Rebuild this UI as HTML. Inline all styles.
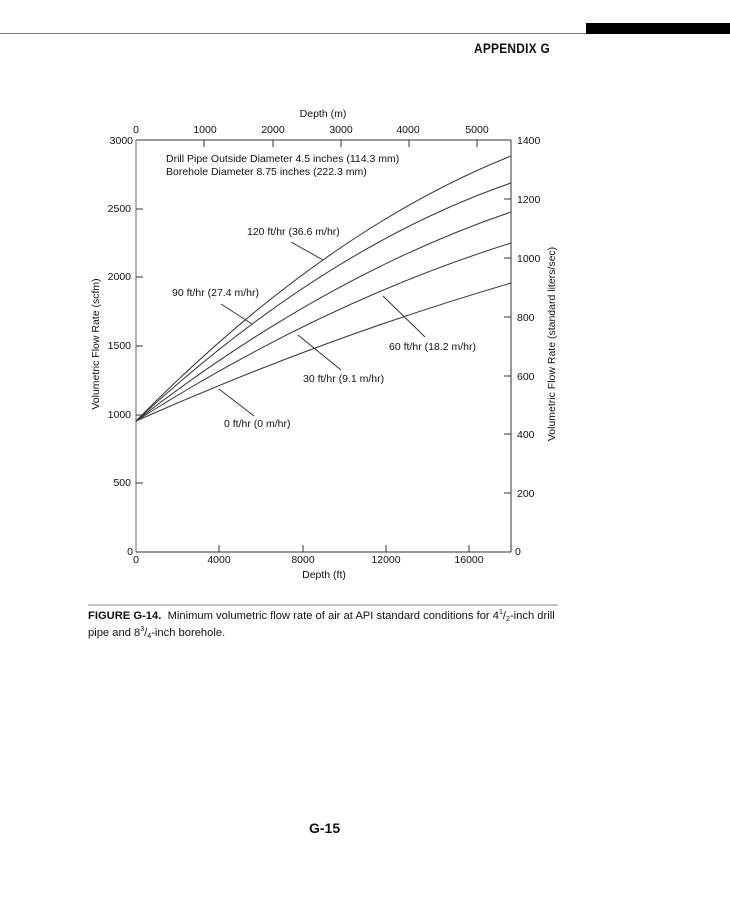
<!DOCTYPE html>
<html><head><meta charset="utf-8"><style>
body{margin:0;background:#fff;width:730px;height:900px;overflow:hidden;position:relative;font-family:"Liberation Sans",sans-serif;color:#111}
.a{position:absolute;white-space:nowrap}
sup,sub{font-size:7px;line-height:0;position:relative;vertical-align:baseline}
sup{top:-5px}sub{top:2px}
</style></head><body>
<div class="a" style="left:0;top:33px;width:586px;height:1px;background:#777"></div>
<div class="a" style="left:586px;top:23px;width:144px;height:11px;background:#000"></div>
<div class="a" style="left:474px;top:40px;font-size:14px;font-weight:bold;letter-spacing:0.3px;transform:scaleX(0.85);transform-origin:left">APPENDIX G</div>
<svg class="a" style="left:0;top:0" width="730" height="900" font-family="Liberation Sans, sans-serif" font-size="10.5" fill="#111">
<g stroke="#333" stroke-width="1" fill="none">
<line x1="136" y1="140" x2="511" y2="140"/>
<line x1="136" y1="140" x2="136" y2="552" stroke="#999" stroke-width="1.5"/>
<line x1="136" y1="552" x2="511" y2="552"/>
<line x1="511" y1="140" x2="511" y2="552"/>
<line x1="136" y1="209" x2="143" y2="209"/><line x1="136" y1="277" x2="143" y2="277"/>
<line x1="136" y1="346" x2="143" y2="346"/><line x1="136" y1="415" x2="143" y2="415"/>
<line x1="136" y1="483" x2="143" y2="483"/>
<line x1="504" y1="140" x2="511" y2="140"/><line x1="504" y1="199" x2="511" y2="199"/>
<line x1="504" y1="258" x2="511" y2="258"/><line x1="504" y1="317" x2="511" y2="317"/>
<line x1="504" y1="376" x2="511" y2="376"/><line x1="504" y1="434" x2="511" y2="434"/>
<line x1="504" y1="493" x2="511" y2="493"/>
<line x1="204" y1="140" x2="204" y2="147"/><line x1="273" y1="140" x2="273" y2="147"/>
<line x1="341" y1="140" x2="341" y2="147"/><line x1="409" y1="140" x2="409" y2="147"/>
<line x1="477" y1="140" x2="477" y2="147"/>
<line x1="219" y1="545" x2="219" y2="552"/><line x1="303" y1="545" x2="303" y2="552"/>
<line x1="386" y1="545" x2="386" y2="552"/><line x1="469" y1="545" x2="469" y2="552"/>
<path d="M136 421 Q323 231 511 156"/>
<path d="M136 421 Q323 248 511 183"/>
<path d="M136 421 Q323 276 511 212"/>
<path d="M136 421 Q323 302 511 243"/>
<path d="M136 421 Q323 338 511 283"/>
<line x1="291" y1="242" x2="323" y2="260"/>
<line x1="221" y1="304" x2="252" y2="324"/>
<line x1="383" y1="296" x2="425" y2="337"/>
<line x1="298" y1="335" x2="341" y2="370"/>
<line x1="219" y1="389" x2="254" y2="416"/>
</g>
<text x="323" y="117" text-anchor="middle">Depth (m)</text>
<text x="136" y="133" text-anchor="middle">0</text>
<text x="205" y="133" text-anchor="middle">1000</text>
<text x="273" y="133" text-anchor="middle">2000</text>
<text x="341" y="133" text-anchor="middle">3000</text>
<text x="408" y="133" text-anchor="middle">4000</text>
<text x="477" y="133" text-anchor="middle">5000</text>
<g text-anchor="end">
<text x="133" y="144">3000</text><text x="131" y="212">2500</text><text x="131" y="280">2000</text>
<text x="131" y="349">1500</text><text x="131" y="418">1000</text><text x="131" y="486">500</text>
<text x="133" y="555">0</text>
</g>
<g text-anchor="start">
<text x="517" y="144">1400</text><text x="517" y="203">1200</text><text x="517" y="262">1000</text>
<text x="517" y="321">800</text><text x="517" y="380">600</text><text x="517" y="438">400</text>
<text x="517" y="497">200</text><text x="515" y="555">0</text>
</g>
<g text-anchor="middle">
<text x="136" y="563">0</text><text x="219" y="563">4000</text><text x="303" y="563">8000</text>
<text x="386" y="563">12000</text><text x="469" y="563">16000</text>
<text x="324" y="578">Depth (ft)</text>
</g>
<text transform="translate(99,344) rotate(-90)" text-anchor="middle">Volumetric Flow Rate (scfm)</text>
<text transform="translate(555,344) rotate(-90)" text-anchor="middle">Volumetric Flow Rate (standard liters/sec)</text>
<text x="166" y="162">Drill Pipe Outside Diameter 4.5 inches (114.3 mm)</text>
<text x="166" y="175">Borehole Diameter 8.75 inches (222.3 mm)</text>
<text x="247" y="235">120 ft/hr (36.6 m/hr)</text>
<text x="172" y="296">90 ft/hr (27.4 m/hr)</text>
<text x="389" y="350">60 ft/hr (18.2 m/hr)</text>
<text x="303" y="382">30 ft/hr (9.1 m/hr)</text>
<text x="224" y="427">0 ft/hr (0 m/hr)</text>
<line x1="88" y1="605" x2="558" y2="605" stroke="#888" stroke-width="1"/>
</svg>
<div class="a" style="left:88px;top:608px;font-size:11.2px;line-height:17px"><b style="font-weight:bold">FIGURE G-14.</b>&nbsp; Minimum volumetric flow rate of air at API standard conditions for 4<sup>1</sup>/<sub>2</sub>-inch drill<br>pipe and 8<sup>3</sup>/<sub>4</sub>-inch borehole.</div>
<div class="a" style="left:309px;top:820px;font-size:14px;font-weight:bold">G-15</div>
</body></html>
